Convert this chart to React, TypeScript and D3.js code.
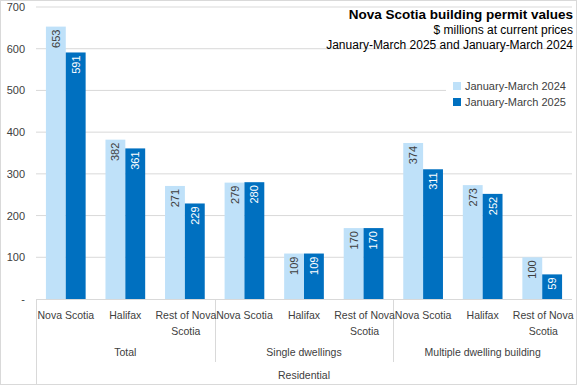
import React, { useEffect, useRef } from 'react';
import * as d3 from 'd3';

const categories = ['Nova Scotia', 'Halifax', 'Rest of Nova Scotia', 'Nova Scotia', 'Halifax', 'Rest of Nova Scotia', 'Nova Scotia', 'Halifax', 'Rest of Nova Scotia'];
const groups = ['Total', 'Single dwellings', 'Multiple dwelling building'];
const topGroup = 'Residential';
const seriesNames = ['January-March 2024', 'January-March 2025'];
const values2024 = [653, 382, 271, 279, 109, 170, 374, 273, 100];
const values2025 = [591, 361, 229, 280, 109, 170, 311, 252, 59];
const yTicks = [0, 100, 200, 300, 400, 500, 600, 700];

const W = 577;
const H = 385;
const FONT = 'Liberation Sans, Arial, sans-serif';
const colors = ['#bfe1f9', '#0070c0'];
const labelColors = ['#404040', '#ffffff'];

const App: React.FC = () => {
  const svgRef = useRef<SVGSVGElement>(null);

  useEffect(() => {
    document.body.style.margin = '0';
    if (!svgRef.current) return;
    const svg = d3.select(svgRef.current);
    svg.selectAll('*').remove();

    const margin = { top: 7, right: 5, bottom: 86, left: 36 };
    const plotW = W - margin.left - margin.right;
    const plotH = H - margin.top - margin.bottom;

    // outer frame
    svg.append('rect')
      .attr('x', 0.5).attr('y', 0.5)
      .attr('width', W - 1).attr('height', H - 1)
      .attr('fill', '#fff').attr('stroke', '#d9d9d9');

    const g = svg.append('g').attr('transform', `translate(${margin.left},${margin.top})`);

    const y = d3.scaleLinear().domain([0, 700]).range([plotH, 0]);
    const idx = categories.map((_, i) => i);
    const x = d3.scaleBand<number>().domain(idx).range([0, plotW]).padding(0);
    const xs = d3.scaleBand<number>().domain([0, 1]).range([0, x.bandwidth()]).paddingInner(0).paddingOuter(0.5);

    // gridlines
    g.selectAll('line.grid')
      .data(yTicks.filter(t => t > 0))
      .enter().append('line')
      .attr('x1', 0).attr('x2', plotW)
      .attr('y1', d => y(d)).attr('y2', d => y(d))
      .attr('stroke', '#d9d9d9').attr('stroke-width', 1);

    // y labels
    g.selectAll('text.ytick')
      .data(yTicks)
      .enter().append('text')
      .attr('x', -11)
      .attr('y', d => y(d) + 4)
      .attr('text-anchor', 'end')
      .style('font-family', FONT).style('font-size', '11px').attr('fill', '#404040')
      .text(d => (d === 0 ? '-' : String(d)));

    // bars
    const series = [values2024, values2025];
    series.forEach((vals, si) => {
      g.selectAll(`rect.s${si}`)
        .data(vals)
        .enter().append('rect')
        .attr('x', (_, i) => (x(i) || 0) + (xs(si) || 0))
        .attr('y', d => y(d))
        .attr('width', xs.bandwidth())
        .attr('height', d => plotH - y(d))
        .attr('fill', colors[si]);

      g.selectAll(`text.l${si}`)
        .data(vals)
        .enter().append('text')
        .attr('transform', (d, i) => {
          const cx = (x(i) || 0) + (xs(si) || 0) + xs.bandwidth() / 2 + 4;
          return `translate(${cx},${y(d) + 3}) rotate(-90)`;
        })
        .attr('text-anchor', 'end')
        .style('font-family', FONT).style('font-size', '11px')
        .attr('fill', labelColors[si])
        .text(d => String(d));
    });

    // category axis
    const axisLine = '#d9d9d9';
    g.append('line')
      .attr('x1', 0).attr('x2', plotW).attr('y1', plotH + 0.5).attr('y2', plotH + 0.5)
      .attr('stroke', axisLine);
    g.append('line')
      .attr('x1', 0.5).attr('x2', 0.5).attr('y1', plotH).attr('y2', H - margin.top)
      .attr('stroke', axisLine);
    [3, 6].forEach(b => {
      const bx = Math.round(x(b) || 0) + 0.5;
      g.append('line')
        .attr('x1', bx).attr('x2', bx).attr('y1', plotH).attr('y2', plotH + 63)
        .attr('stroke', axisLine);
    });

    categories.forEach((c, i) => {
      const cx = (x(i) || 0) + x.bandwidth() / 2;
      const lines = c === 'Rest of Nova Scotia' ? ['Rest of Nova', 'Scotia'] : [c];
      lines.forEach((ln, li) => {
        g.append('text')
          .attr('x', cx + (lines.length > 1 ? 1 : 0)).attr('y', plotH + 20 + li * 16)
          .attr('text-anchor', 'middle')
          .style('font-family', FONT).style('font-size', '10.5px').attr('fill', '#404040')
          .text(ln);
      });
    });

    groups.forEach((gr, gi) => {
      const gx = ((x(gi * 3) || 0) + (x(gi * 3 + 2) || 0) + x.bandwidth()) / 2;
      g.append('text')
        .attr('x', gx).attr('y', plotH + 57)
        .attr('text-anchor', 'middle')
        .style('font-family', FONT).style('font-size', '10.5px').attr('fill', '#404040')
        .text(gr);
    });

    g.append('text')
      .attr('x', plotW / 2).attr('y', plotH + 80)
      .attr('text-anchor', 'middle')
      .style('font-family', FONT).style('font-size', '10.5px').attr('fill', '#404040')
      .text(topGroup);

    // legend
    const lg = svg.append('g').attr('transform', 'translate(446,78)');
    lg.append('rect').attr('x', 0).attr('y', 0).attr('width', 126).attr('height', 30).attr('fill', '#fff');
    seriesNames.forEach((s, i) => {
      lg.append('rect')
        .attr('x', 7).attr('y', 4 + i * 16).attr('width', 8).attr('height', 8)
        .attr('fill', colors[i]);
      lg.append('text')
        .attr('x', 19).attr('y', 12 + i * 16)
        .style('font-family', FONT).style('font-size', '11px').attr('fill', '#404040')
        .text(s);
    });

    // titles
    svg.append('text')
      .attr('x', 573).attr('y', 19)
      .attr('text-anchor', 'end')
      .style('font-family', FONT).style('font-size', '13.5px').style('font-weight', 'bold')
      .attr('fill', '#000')
      .text('Nova Scotia building  permit values');
    svg.append('text')
      .attr('x', 573).attr('y', 34)
      .attr('text-anchor', 'end')
      .style('font-family', FONT).style('font-size', '12px')
      .attr('fill', '#000')
      .text('$ millions at current prices');
    svg.append('text')
      .attr('x', 573).attr('y', 49)
      .attr('text-anchor', 'end')
      .style('font-family', FONT).style('font-size', '12px')
      .attr('fill', '#000')
      .text('January-March  2025 and January-March  2024');
  }, []);

  return <svg ref={svgRef} width={W} height={H} style={{ display: 'block' }} />;
};

export default App;
